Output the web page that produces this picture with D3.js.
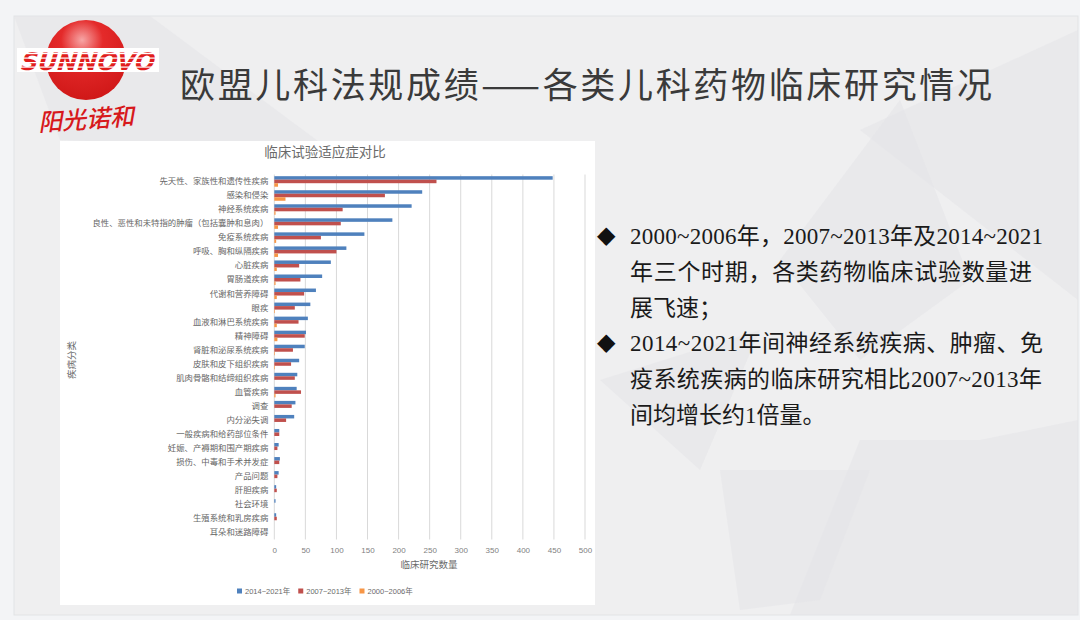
<!DOCTYPE html>
<html>
<head>
<meta charset="utf-8">
<script src="https://cdn.jsdelivr.net/npm/d3@7"></script>
<style>
  html, body { margin: 0; padding: 0; background: #f3f4f6; }
  svg { display: block; }
</style>
</head>
<body>
<div id="slide"></div>
<script>
// data
const categories = [
  "先天性、家族性和遗传性疾病", "感染和侵染", "神经系统疾病",
  "良性、恶性和未特指的肿瘤（包括囊肿和息肉）", "免疫系统疾病", "呼吸、胸和纵隔疾病",
  "心脏疾病", "胃肠道疾病", "代谢和营养障碍", "眼疾", "血液和淋巴系统疾病",
  "精神障碍", "肾脏和泌尿系统疾病", "皮肤和皮下组织疾病", "肌肉骨骼和结缔组织疾病",
  "血管疾病", "调查", "内分泌失调", "一般疾病和给药部位条件", "妊娠、产褥期和围产期疾病",
  "损伤、中毒和手术并发症", "产品问题", "肝胆疾病", "社会环境", "生殖系统和乳房疾病",
  "耳朵和迷路障碍"
];
const seriesNames = ["2014~2021年", "2007~2013年", "2000~2006年"];
const s2014 = [448, 238, 221, 190, 145, 116, 91, 77, 67, 58, 54, 51, 49, 40, 37, 36, 34, 32, 8, 7, 9, 7, 3, 2, 3, 0];
const s2007 = [261, 178, 110, 107, 75, 100, 40, 42, 48, 33, 39, 49, 30, 27, 33, 43, 28, 19, 8, 5, 8, 5, 4, 0, 4, 0];
const s2000 = [6, 18, 2, 6, 3, 6, 4, 2, 4, 1, 4, 5, 1, 1, 0, 2, 0, 0, 0, 0, 0, 0, 0, 0, 0, 0];
const xTicks = [0, 50, 100, 150, 200, 250, 300, 350, 400, 450, 500];

const bulletLines = [
  ["◆", "2000~2006年，2007~2013年及2014~2021"],
  ["", "年三个时期，各类药物临床试验数量进"],
  ["", "展飞速；"],
  ["◆", "2014~2021年间神经系统疾病、肿瘤、免"],
  ["", "疫系统疾病的临床研究相比2007~2013年"],
  ["", "间均增长约1倍量。"]
];

const W = 1080, H = 620;
const cjk = "'Noto Sans CJK SC', 'Noto Sans', sans-serif";
const serifCjk = "'Liberation Serif', 'Noto Sans CJK SC', serif";

const svg = d3.select("#slide").append("svg")
  .attr("width", W).attr("height", H);

// slide background
svg.append("rect").attr("x", 0).attr("y", 0).attr("width", W).attr("height", H).attr("fill", "#f3f4f6");
svg.append("rect").attr("x", 14).attr("y", 16).attr("width", 1064).attr("height", 599)
  .attr("fill", "#efeff0").attr("stroke", "#e2e3e5").attr("stroke-width", 1);

// faint polygon decoration
const polys = [
  [[14, 16], [150, 16], [330, 150], [60, 140]],
  [[860, 130], [1078, 30], [1078, 300]],
  [[900, 100], [970, 280], [860, 360], [780, 260]],
  [[860, 440], [980, 440], [1078, 420], [1078, 615], [790, 615]],
  [[720, 470], [870, 470], [820, 600], [740, 610]],
  [[600, 380], [760, 330], [700, 470]]
];
svg.append("g").selectAll("polygon").data(polys).join("polygon")
  .attr("points", (d) => d.map((p) => p.join(",")).join(" "))
  .attr("fill", "#e3e4e8").attr("opacity", 0.55);

// logo
const defs = svg.append("defs");
const grad = defs.append("radialGradient").attr("id", "logoGrad")
  .attr("cx", "45%").attr("cy", "25%").attr("r", "75%");
grad.append("stop").attr("offset", "0%").attr("stop-color", "#f7a5a5");
grad.append("stop").attr("offset", "35%").attr("stop-color", "#e42a2a");
grad.append("stop").attr("offset", "100%").attr("stop-color", "#d01818");

const logo = svg.append("g");
logo.append("circle").attr("cx", 86).attr("cy", 60).attr("r", 40).attr("fill", "url(#logoGrad)");
logo.append("rect").attr("x", 17).attr("y", 48).attr("width", 142).attr("height", 24).attr("fill", "#ffffff");
logo.append("text")
  .attr("x", 88).attr("y", 70)
  .attr("text-anchor", "middle")
  .attr("transform", "skewX(-16) translate(18,0)")
  .style("font-family", "'DejaVu Sans', sans-serif")
  .style("font-weight", "bold")
  .style("font-size", "24px")
  .attr("textLength", 134).attr("lengthAdjust", "spacingAndGlyphs")
  .style("fill", "#e11d1d")
  .text("SUNNOVO");
[53, 57.5, 62, 66.5].forEach((y) => {
  logo.append("rect").attr("x", 17).attr("y", y).attr("width", 142).attr("height", 1.2).attr("fill", "#ffffff");
});
logo.append("text")
  .attr("x", 86).attr("y", 128)
  .attr("text-anchor", "middle")
  .attr("transform", "rotate(-4,86,120)")
  .style("font-family", cjk)
  .style("font-weight", "500")
  .style("font-style", "italic")
  .style("font-size", "24px")
  .style("fill", "#d7191c")
  .text("阳光诺和");

// slide title
svg.append("text")
  .attr("x", 180).attr("y", 98)
  .style("font-family", cjk)
  .style("font-size", "35px")
  .style("fill", "#3a3a3a")
  .attr("textLength", 812).attr("lengthAdjust", "spacing")
  .text("欧盟儿科法规成绩——各类儿科药物临床研究情况");

// bullets on the right
const bullets = svg.append("g");
bulletLines.forEach(([mark, line], i) => {
  const y = 244 + i * 35.8;
  if (mark) {
    bullets.append("text").attr("x", 597).attr("y", y - 1)
      .style("font-family", "'DejaVu Sans', sans-serif").style("font-size", "24px")
      .style("fill", "#111").text(mark);
  }
  const t = bullets.append("text").attr("x", 630).attr("y", y)
    .style("font-family", serifCjk).style("font-size", "23px")
    .style("fill", "#1a1a1a").text(line);
  const widths = [413, 402, 0, 413, 412, 0];
  if (widths[i]) t.attr("textLength", widths[i]).attr("lengthAdjust", "spacing");
});

// chart panel
svg.append("rect").attr("x", 60).attr("y", 141).attr("width", 535).attr("height", 464).attr("fill", "#ffffff");

const margin = { top: 174.5, left: 274.3 };
const plotW = 310.7, plotH = 365;

const chart = svg.append("g").attr("transform", `translate(${margin.left},${margin.top})`);

const xScale = d3.scaleLinear().domain([0, 500]).range([0, plotW]);
const yScale = d3.scaleBand().domain(categories).range([0, plotH]).paddingInner(0.25).paddingOuter(0.12);
const ySub = d3.scaleBand().domain(seriesNames).range([0, yScale.bandwidth()]);

const colors = { "2014~2021年": "#4f81bd", "2007~2013年": "#c0504d", "2000~2006年": "#f79646" };
const seriesValues = { "2014~2021年": s2014, "2007~2013年": s2007, "2000~2006年": s2000 };

// gridlines
chart.append("g").selectAll("line").data(xTicks).join("line")
  .attr("x1", (d) => xScale(d)).attr("x2", (d) => xScale(d))
  .attr("y1", 0).attr("y2", plotH)
  .attr("stroke", "#d9d9d9").attr("stroke-width", 1);

// bars
seriesNames.forEach((name) => {
  chart.append("g").selectAll("rect")
    .data(categories.map((c, i) => ({ c, v: seriesValues[name][i] })))
    .join("rect")
    .attr("x", 0)
    .attr("y", (d) => yScale(d.c) + ySub(name))
    .attr("width", (d) => xScale(d.v))
    .attr("height", ySub.bandwidth())
    .attr("fill", colors[name]);
});

// axes
const xAxis = chart.append("g")
  .attr("transform", `translate(0,${plotH})`)
  .call(d3.axisBottom(xScale).tickValues(xTicks).tickSize(0).tickPadding(8));
xAxis.select(".domain").remove();
xAxis.selectAll("text")
  .style("font-family", "'Liberation Sans', sans-serif").style("font-size", "8px").style("fill", "#7f7f7f");

const yAxis = chart.append("g")
  .call(d3.axisLeft(yScale).tickSize(0).tickPadding(6));
yAxis.select(".domain").remove();
yAxis.selectAll("text")
  .style("font-family", cjk).style("font-size", "8.4px").style("fill", "#666666");

// titles
svg.append("text")
  .attr("x", 325).attr("y", 157)
  .attr("text-anchor", "middle")
  .style("font-family", cjk).style("font-size", "13.5px").style("fill", "#6a6a6a")
  .text("临床试验适应症对比");

svg.append("text")
  .attr("x", 429).attr("y", 568)
  .attr("text-anchor", "middle")
  .style("font-family", cjk).style("font-size", "9.5px").style("fill", "#6a6a6a")
  .text("临床研究数量");

svg.append("text")
  .attr("transform", "translate(75,360) rotate(-90)")
  .attr("text-anchor", "middle")
  .style("font-family", cjk).style("font-size", "9.5px").style("fill", "#6a6a6a")
  .text("疾病分类");

// legend
const legend = svg.append("g").attr("transform", "translate(237,591)");
let lx = 0;
seriesNames.forEach((name) => {
  legend.append("rect").attr("x", lx).attr("y", -2.5).attr("width", 5).attr("height", 5).attr("fill", colors[name]);
  const t = legend.append("text").attr("x", lx + 8).attr("y", 2.8)
    .style("font-family", "'Liberation Sans', 'Noto Sans CJK SC', sans-serif")
    .style("font-size", "7.5px").style("fill", "#6a6a6a").text(name);
  lx += 8 + t.node().getComputedTextLength() + 8;
});
</script>
</body>
</html>
